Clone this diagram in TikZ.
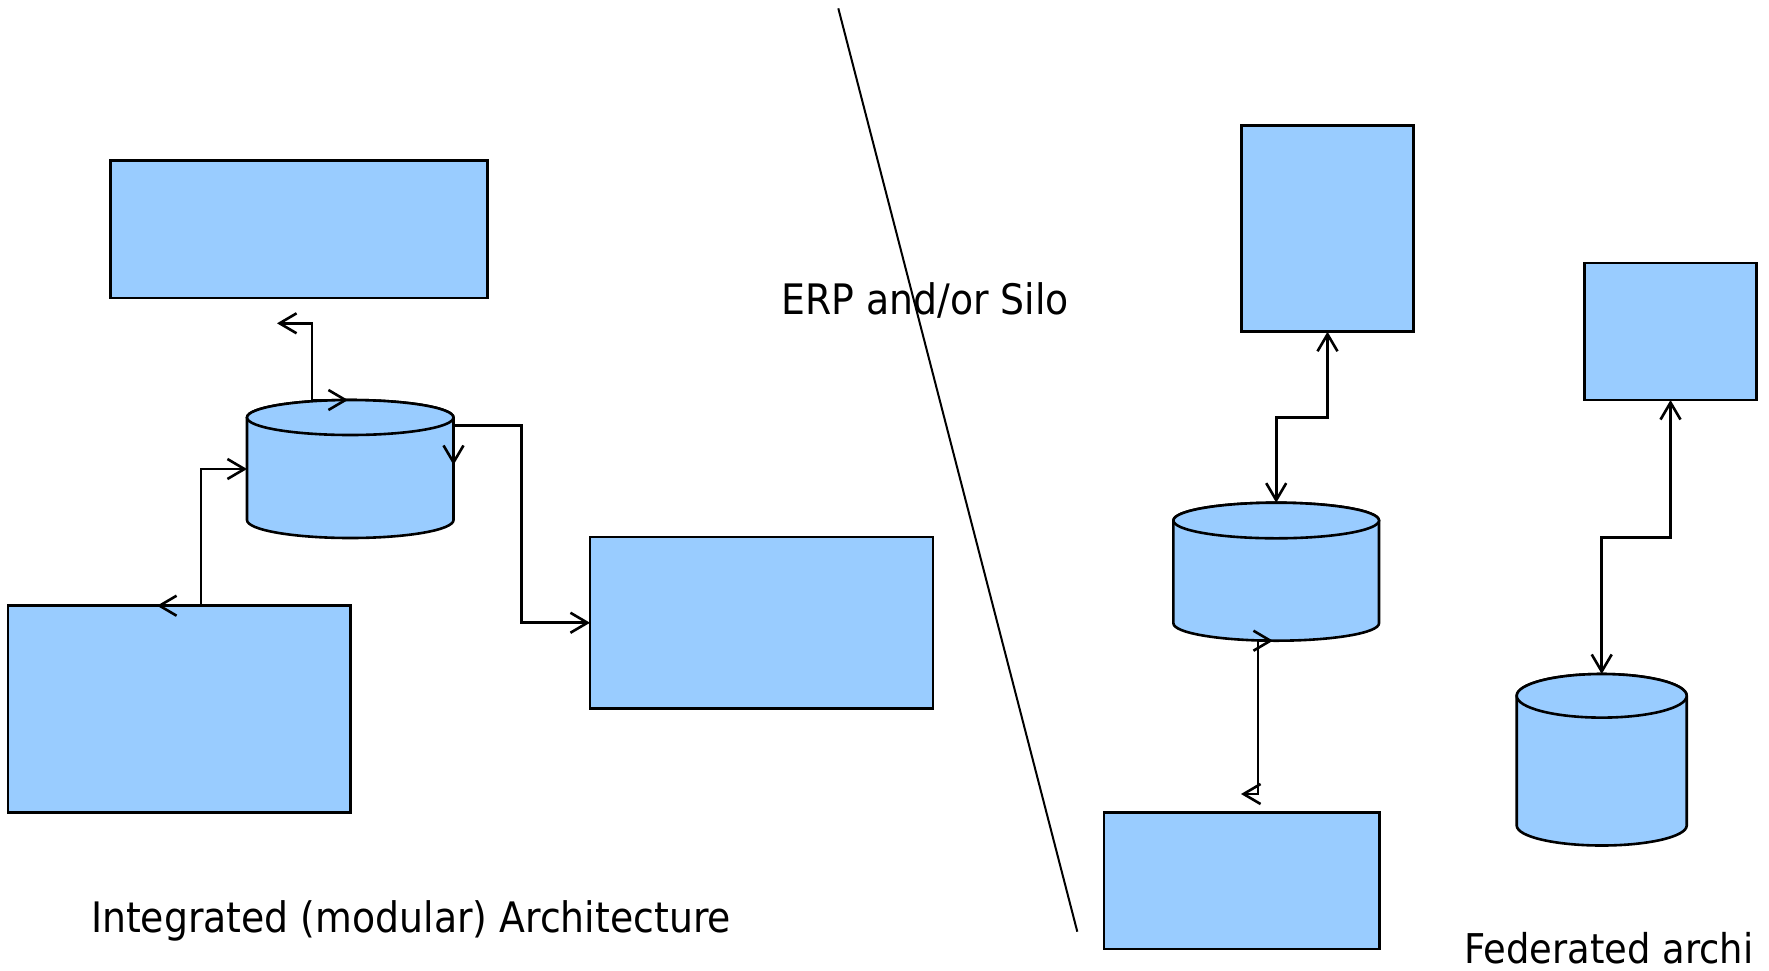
\documentclass[tikz,border=0pt]{standalone}
\usepackage{fontspec}
\setmainfont{DejaVu Sans}[FakeStretch=0.9]
\usetikzlibrary{arrows.meta}
\definecolor{fillblue}{RGB}{153,204,255}
\begin{document}
\begin{tikzpicture}[x=1pt,y=-1pt,
  box/.style={draw, fill=fillblue, line width=2.6pt, inner sep=0pt, outer sep=0pt},
  cylbody/.style={draw, fill=fillblue, line width=2.6pt},
  anchorbox/.style={inner sep=0pt, outer sep=0pt},
  conn/.style={line width=2.6pt, {Straight Barb[length=17pt,width=20pt]}-{Straight Barb[length=17pt,width=20pt]}},
  lbl/.style={anchor=base, inner sep=0pt, font=\fontsize{42}{50}\selectfont}]
\useasboundingbox (0,0) rectangle (1769,970);

% rectangles
\node[box, minimum width=376.8pt, minimum height=137.6pt] (tl) at (299,229) {};
\node[box, minimum width=342.8pt, minimum height=206.6pt] (bl) at (179.3,709) {};
\node[box, minimum width=343pt, minimum height=171.5pt] (mr) at (761.5,622.75) {};
\node[box, minimum width=171.6pt, minimum height=206.5pt] (rt1) at (1327.5,228.45) {};
\node[box, minimum width=172.4pt, minimum height=137pt] (rt2) at (1670.5,331.5) {};
\node[box, minimum width=275.3pt, minimum height=136.7pt] (rb) at (1241.65,880.65) {};

% left cylinder
\draw[cylbody] (247,417.5) -- (247,520) arc[start angle=180, end angle=0, x radius=103.25, y radius=18] -- (453.5,417.5) arc[start angle=0, end angle=-180, x radius=103.25, y radius=17.5] -- cycle;
\draw[cylbody] (350.25,417.5) ellipse[x radius=103.25, y radius=17.5];
\node[anchorbox, minimum width=206.5pt, minimum height=138pt] (cylL) at (350.25,469) {};

% right cylinder 1
\draw[cylbody] (1173.4,520.5) -- (1173.4,623.3) arc[start angle=180, end angle=0, x radius=102.8, y radius=17.4] -- (1379,520.5) arc[start angle=0, end angle=-180, x radius=102.8, y radius=17.8] -- cycle;
\draw[cylbody] (1276.2,520.5) ellipse[x radius=102.8, y radius=17.8];
\node[anchorbox, minimum width=205.6pt, minimum height=138pt] (cylR1) at (1276.2,571.7) {};

% right cylinder 2
\draw[cylbody] (1516.7,695.8) -- (1516.7,825.5) arc[start angle=180, end angle=0, x radius=85, y radius=20] -- (1686.7,695.8) arc[start angle=0, end angle=-180, x radius=85, y radius=21.8] -- cycle;
\draw[cylbody] (1601.7,695.8) ellipse[x radius=85, y radius=21.8];
\node[anchorbox, minimum width=170pt, minimum height=171.5pt] (cylR2) at (1601.7,759.75) {};

% connector end points
\coordinate (aS) at (348,400);
\coordinate (aE) at (277,323.3);
\coordinate (bS) at (157,605.7);
\coordinate (cS) at (453.5,465);
\coordinate (dS) at (1273,640.7);
\coordinate (dE) at (1241,794);

% connectors (left)
\draw[conn] (aS) -- (312,400) -- (312,323.3) -- (aE);
\draw[conn] (bS) -- (201,605.7) -- (201,469) -- (cylL.west);
\draw[conn] (cS) -- (453.5,425.5) -- (521.5,425.5) -- (521.5,622.75) -- (mr.west);

% connectors (right)
\draw[conn] (rt1.south) -- (1327.5,417.3) -- (1276.2,417.3) -- (cylR1.north);
\draw[conn] (dS) -- (1258,640.7) -- (1258,794) -- (dE);
\draw[conn] (rt2.south) -- (1670.5,537.7) -- (1601.7,537.7) -- (cylR2.north);

% divider
\coordinate (divA) at (838.3,8.3);
\coordinate (divB) at (1077.3,931.7);
\draw[line width=2pt] (divA) -- (divB);

% labels
\node[lbl] (erp) at (925,314) {ERP and/or Silo};
\node[lbl] (integ) at (411,932.3) {Integrated (modular) Architecture};
\node[lbl, font=\fontsize{41}{49}\selectfont] (fed) at (1609,963.3) {Federated archi};
\end{tikzpicture}
\end{document}
